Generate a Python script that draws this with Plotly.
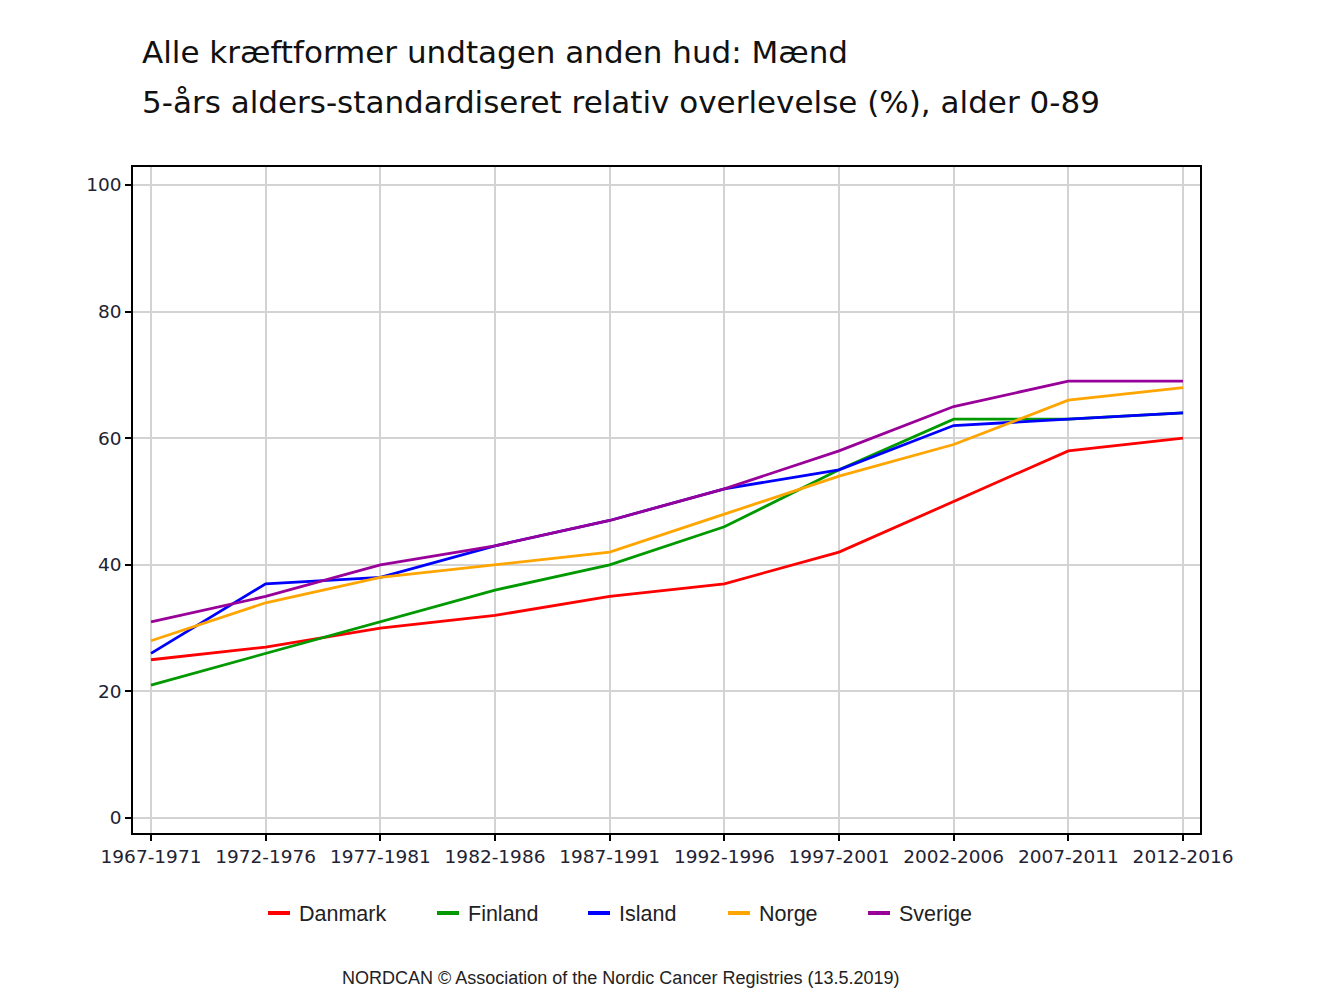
import plotly.graph_objects as go

periods = ["1967-1971", "1972-1976", "1977-1981", "1982-1986", "1987-1991",
           "1992-1996", "1997-2001", "2002-2006", "2007-2011", "2012-2016"]
danmark = [25, 27, 30, 32, 35, 37, 42, 50, 58, 60]
finland = [21, 26, 31, 36, 40, 46, 55, 63, 63, 64]
island = [26, 37, 38, 43, 47, 52, 55, 62, 63, 64]
norge = [28, 34, 38, 40, 42, 48, 54, 59, 66, 68]
sverige = [31, 35, 40, 43, 47, 52, 58, 65, 69, 69]

series_names = ["Danmark", "Finland", "Island", "Norge", "Sverige"]
series_values = [danmark, finland, island, norge, sverige]
series_colors = ["#ff0000", "#009900", "#0000ff", "#ffa500", "#990099"]
y_ticks = [0, 20, 40, 60, 80, 100]

title_line1 = "Alle kræftformer undtagen anden hud: Mænd"
title_line2 = "5-års alders-standardiseret relativ overlevelse (%), alder 0-89"
footer = "NORDCAN © Association of the Nordic Cancer Registries (13.5.2019)"

# page body has an 8px default margin; compensate
OFF = 8
W, H = 1333, 1000
pw, ph = 1067, 666
L, T = 133 - OFF, 167 - OFF
R, B = W - L - pw, H - T - ph


def px(x):
    return (x - OFF - L) / pw


def py(y):
    return (T + ph - (y - OFF)) / ph


fig = go.Figure()
for name, vals, col in zip(series_names, series_values, series_colors):
    fig.add_trace(go.Scatter(x=periods, y=vals, mode="lines", name=name,
                             line=dict(color=col, width=2.8), showlegend=False))

tick_font = dict(family="DejaVu Sans", size=18.5, color="#222233")
fig.update_layout(
    width=W, height=H,
    margin=dict(l=L, r=R, t=T, b=B),
    paper_bgcolor="white", plot_bgcolor="white",
    xaxis=dict(type="category", range=[-0.157, 9.148], showgrid=True,
               gridcolor="#d3d3d3", gridwidth=1.5, showline=True, linecolor="black",
               linewidth=1.5, mirror=True, ticks="outside", ticklen=6,
               tickcolor="black", tickwidth=1.5, tickfont=tick_font, zeroline=False),
    yaxis=dict(range=[-2.37, 102.84], tickvals=y_ticks, showgrid=True,
               gridcolor="#d3d3d3", gridwidth=1.5, showline=True, linecolor="black",
               linewidth=1.5, mirror=True, ticks="outside", ticklen=6,
               tickcolor="black", tickwidth=1.5, tickfont=tick_font, zeroline=False),
)

annotations = [
    dict(text=title_line1, x=px(140), y=py(52), xref="paper", yref="paper",
         xanchor="left", yanchor="middle", showarrow=False,
         font=dict(family="DejaVu Sans", size=31, color="#111111")),
    dict(text=title_line2, x=px(140), y=py(102), xref="paper", yref="paper",
         xanchor="left", yanchor="middle", showarrow=False,
         font=dict(family="DejaVu Sans", size=31, color="#111111")),
    dict(text=footer, x=px(621), y=py(978), xref="paper", yref="paper",
         xanchor="center", yanchor="middle", showarrow=False,
         font=dict(family="Liberation Sans", size=18, color="#222222")),
]

# manual legend (short line symbols like the reference)
legend_x = [268, 437, 588, 728, 868]
shapes = []
for name, col, lx in zip(series_names, series_colors, legend_x):
    shapes.append(dict(type="line", xref="paper", yref="paper",
                       x0=px(lx), x1=px(lx + 22), y0=py(913), y1=py(913),
                       line=dict(color=col, width=4)))
    annotations.append(dict(text=name, x=px(lx + 29), y=py(914), xref="paper",
                            yref="paper", xanchor="left", yanchor="middle",
                            showarrow=False,
                            font=dict(family="Liberation Sans", size=21.5, color="#222222")))

fig.update_layout(annotations=annotations, shapes=shapes)
fig.write_html("out.html")
